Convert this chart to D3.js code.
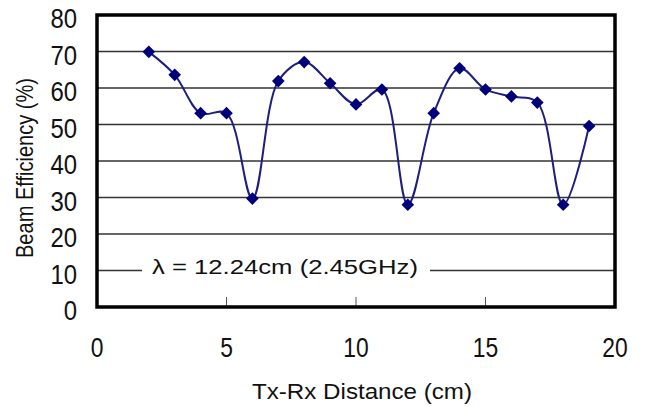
<!DOCTYPE html>
<html>
<head>
<meta charset="utf-8">
<script src="https://cdn.jsdelivr.net/npm/d3@7"></script>
<style>
  html, body { margin: 0; padding: 0; background: #fff; }
  svg text { font-family: Arial, "Liberation Sans", sans-serif; fill: #111; }
</style>
</head>
<body>
<svg id="chart" width="645" height="407"></svg>
<script>
// values
const distances = [2, 3, 4, 5, 6, 7, 8, 9, 10, 11, 12, 13, 14, 15, 16, 17, 18, 19];
const efficiency = [69.9, 63.6, 53.1, 53.1, 29.7, 61.9, 67.1, 61.3, 55.5, 59.6, 28.0, 53.1, 65.4, 59.6, 57.7, 56.0, 28.0, 49.6];
const xTicks = [0, 5, 10, 15, 20];
const yTicks = [0, 10, 20, 30, 40, 50, 60, 70, 80];
const xTitle = "Tx-Rx Distance (cm)";
const yTitle = "Beam Efficiency (%)";
const note = "\u03bb = 12.24cm (2.45GHz)";

function drawChart() {
  const svg = d3.select("#chart");
  const margin = { top: 15, right: 30, bottom: 100, left: 97 };
  const width = +svg.attr("width");
  const height = +svg.attr("height");
  const innerW = width - margin.left - margin.right;
  const innerH = height - margin.top - margin.bottom;

  const x = d3.scaleLinear().domain([0, 20]).range([margin.left, margin.left + innerW]);
  const y = d3.scaleLinear().domain([0, 80]).range([margin.top + innerH, margin.top]);

  // horizontal gridlines
  svg.append("g")
      .classed("grid", true)
    .selectAll("line")
    .data(yTicks.filter(d => d > 0 && d < 80))
    .enter()
    .append("line")
      .attr("x1", x(0))
      .attr("x2", x(20))
      .attr("y1", d => y(d))
      .attr("y2", d => y(d))
      .attr("stroke", "#333")
      .attr("stroke-width", 1.3);

  // small ticks on the x axis, pointing up
  svg.append("g")
    .selectAll("line")
    .data(xTicks.filter(d => d > 0 && d < 20))
    .enter()
    .append("line")
      .attr("x1", d => x(d))
      .attr("x2", d => x(d))
      .attr("y1", y(0))
      .attr("y2", y(0) - 10)
      .attr("stroke", "#555")
      .attr("stroke-width", 1);

  // annotation with a white box over the 10% gridline
  svg.append("rect")
      .attr("x", 142)
      .attr("y", y(10) - 9)
      .attr("width", 288)
      .attr("height", 18)
      .attr("fill", "#fff");

  svg.append("text")
      .attr("x", 152)
      .attr("y", y(10) + 3)
      .attr("font-size", "20px")
      .attr("textLength", 266)
      .attr("lengthAdjust", "spacingAndGlyphs")
      .text(note);

  // smoothed line
  const points = distances.map((d, i) => ({ d: d, v: efficiency[i] }));
  const line = d3.line()
    .x(p => x(p.d))
    .y(p => y(p.v))
    .curve(d3.curveCatmullRom.alpha(0.5));

  svg.append("path")
      .datum(points)
      .attr("fill", "none")
      .attr("stroke", "#1e1e80")
      .attr("stroke-width", 2);

  svg.select("path")
      .attr("d", line);

  // diamond markers
  const diamond = d3.symbol().type(d3.symbolSquare).size(80);
  svg.append("g")
    .selectAll("path")
    .data(points)
    .enter()
    .append("path")
      .attr("d", diamond)
      .attr("fill", "#00007a")
      .attr("transform", p => `translate(${x(p.d)},${y(p.v)}) rotate(45)`);

  // plot frame
  svg.append("rect")
      .attr("x", x(0))
      .attr("y", y(80))
      .attr("width", x(20) - x(0))
      .attr("height", y(0) - y(80))
      .attr("fill", "none")
      .attr("stroke", "#000")
      .attr("stroke-width", 3.5);

  // tick labels
  svg.append("g")
    .selectAll("text")
    .data(yTicks)
    .enter()
    .append("text")
      .attr("x", 77)
      .attr("y", d => y(d) + 13)
      .attr("text-anchor", "end")
      .attr("font-size", "28px")
      .attr("textLength", d => String(d).length * 13.3)
      .attr("lengthAdjust", "spacingAndGlyphs")
      .text(d => d);

  svg.append("g")
    .selectAll("text")
    .data(xTicks)
    .enter()
    .append("text")
      .attr("x", d => x(d))
      .attr("y", 357)
      .attr("text-anchor", "middle")
      .attr("font-size", "28px")
      .attr("textLength", d => String(d).length * 12.7)
      .attr("lengthAdjust", "spacingAndGlyphs")
      .text(d => d);

  // axis titles
  svg.append("text")
      .attr("x", 362)
      .attr("y", 399)
      .attr("text-anchor", "middle")
      .attr("font-size", "22px")
      .attr("textLength", 220)
      .attr("lengthAdjust", "spacingAndGlyphs")
      .text(xTitle);

  svg.append("text")
      .attr("transform", "translate(33,168) rotate(-90)")
      .attr("text-anchor", "middle")
      .attr("font-size", "24px")
      .attr("textLength", 180)
      .attr("lengthAdjust", "spacingAndGlyphs")
      .text(yTitle);
}

drawChart();
</script>
</body>
</html>
